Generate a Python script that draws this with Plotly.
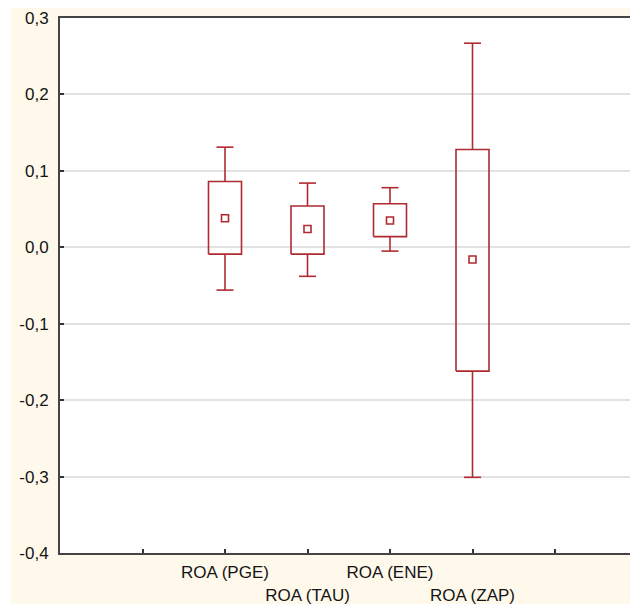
import plotly.graph_objects as go

# ---- data ----
categories = ["ROA (PGE)", "ROA (TAU)", "ROA (ENE)", "ROA (ZAP)"]
positions = [2, 3, 4, 5]
whisker_low = [-0.056, -0.038, -0.005, -0.301]
box_low = [-0.009, -0.009, 0.014, -0.162]
middle = [0.038, 0.024, 0.035, -0.016]
box_high = [0.086, 0.054, 0.057, 0.128]
whisker_high = [0.131, 0.084, 0.078, 0.267]

x_ticks = [1, 2, 3, 4, 5, 6]
x_ticktext = ["", "ROA (PGE)", "<br>ROA (TAU)", "ROA (ENE)", "<br>ROA (ZAP)", ""]
y_ticks = [-0.4, -0.3, -0.2, -0.1, 0.0, 0.1, 0.2, 0.3]
y_ticktext = ["-0,4", "-0,3", "-0,2", "-0,1", "0,0", "0,1", "0,2", "0,3"]

COLOR = "#B02A31"
BOX_HALF = 0.2
CAP_HALF = 0.103

# build line paths for boxes and whiskers
xs, ys = [], []
for p, wl, bl, bh, wh in zip(positions, whisker_low, box_low, box_high, whisker_high):
    xs += [p - BOX_HALF, p + BOX_HALF, p + BOX_HALF, p - BOX_HALF, p - BOX_HALF, None]
    ys += [bl, bl, bh, bh, bl, None]
    xs += [p, p, None, p - CAP_HALF, p + CAP_HALF, None]
    ys += [bh, wh, None, wh, wh, None]
    xs += [p, p, None, p - CAP_HALF, p + CAP_HALF, None]
    ys += [bl, wl, None, wl, wl, None]

fig = go.Figure()
fig.add_trace(go.Scatter(x=xs, y=ys, mode="lines",
                         line=dict(color=COLOR, width=1.6),
                         hoverinfo="skip", showlegend=False, cliponaxis=False))
fig.add_trace(go.Scatter(x=positions, y=middle, mode="markers",
                         marker=dict(symbol="square-open", size=7,
                                     color=COLOR, line=dict(color=COLOR, width=1.6)),
                         showlegend=False))

CREAM = "#FFF9EC"
W, H = 630, 604
L, T, B, R = 60, 18, 51, 0
pw, ph = W - L - R, H - T - B

# white strips at the left and top edges (outside the cream frame)
fig.add_shape(type="rect", xref="paper", yref="paper",
              x0=-L / pw, x1=-(L - 11) / pw, y0=-B / ph, y1=1 + T / ph,
              fillcolor="white", line_width=0, layer="below")
fig.add_shape(type="rect", xref="paper", yref="paper",
              x0=-L / pw, x1=1, y0=1 + (T - 8) / ph, y1=1 + T / ph,
              fillcolor="white", line_width=0, layer="below")

font = dict(family="Liberation Sans, Arial, sans-serif", size=17, color="#141414")

fig.update_layout(
    width=W, height=H,
    margin=dict(l=L, r=R, t=T, b=B, autoexpand=False),
    paper_bgcolor=CREAM,
    plot_bgcolor="white",
    font=font,
    xaxis=dict(range=[0, 570 / 82.5], tickvals=x_ticks, ticktext=x_ticktext,
               tickangle=0, automargin=False,
               ticks="inside", ticklen=4, tickwidth=1.5, tickcolor="#333333",
               showgrid=False, zeroline=False,
               showline=True, linecolor="#444444", linewidth=2, mirror=True,
               tickfont=font, ticklabelstandoff=3),
    yaxis=dict(range=[-0.4, 0.3], tickvals=y_ticks, ticktext=y_ticktext,
               automargin=False,
               ticks="inside", ticklen=4, tickwidth=1.5, tickcolor="#333333",
               showgrid=True, gridcolor="#E2E2E2", gridwidth=1.5,
               zeroline=False,
               showline=True, linecolor="#444444", linewidth=2,
               tickfont=font, ticklabelstandoff=6),
)

fig.write_html("out.html")
